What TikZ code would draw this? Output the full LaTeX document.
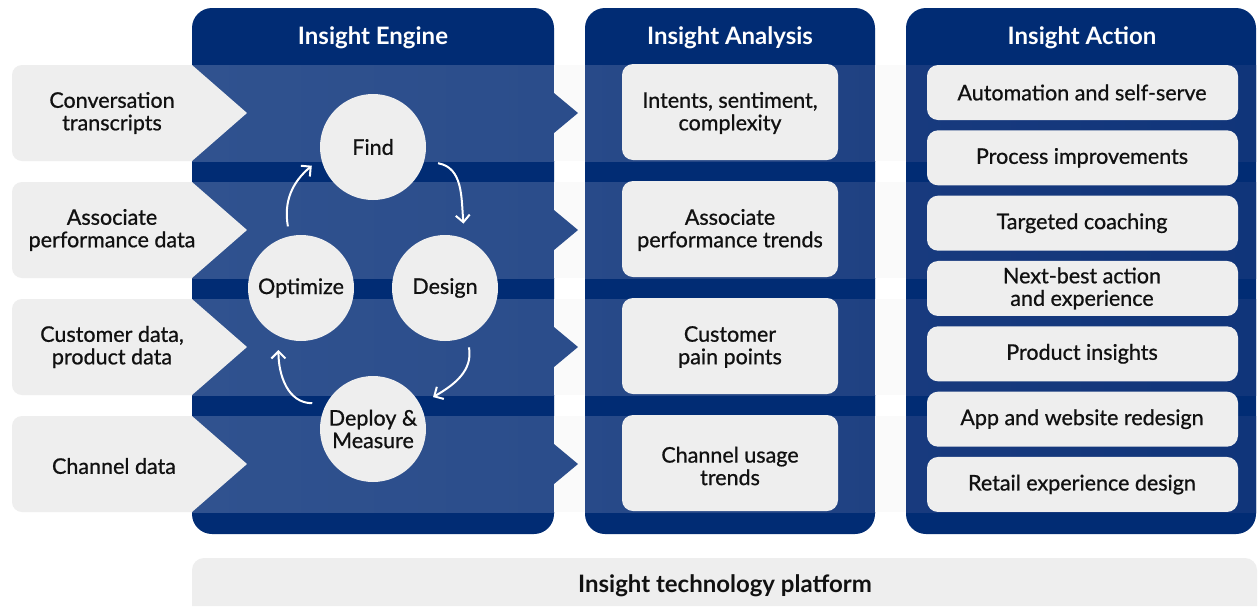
\documentclass[tikz,border=0pt]{standalone}
\usepackage{fontspec}
\setmainfont{Lato}
\newfontfamily\lblfont{Lato}[FakeBold=0.8]
\usetikzlibrary{arrows.meta,calc}
\definecolor{navy}{HTML}{012C74}
\definecolor{cardgray}{HTML}{EEEEEE}
\definecolor{gapw}{HTML}{FAFAFA}
\definecolor{ink}{HTML}{111111}
\definecolor{engA}{HTML}{30528F}
\definecolor{engB}{HTML}{2B4D8B}
\definecolor{anaA}{HTML}{284A89}
\definecolor{anaB}{HTML}{1F4182}
\definecolor{actA}{HTML}{183A7E}
\definecolor{actB}{HTML}{10357A}
\begin{document}
\begin{tikzpicture}[x=1pt,y=1pt,
  hdr/.style={text=white,font=\fontsize{24}{27}\selectfont\bfseries},
  lab/.style={text=ink,align=center,inner sep=0,font=\lblfont\fontsize{21.5}{22.5}\selectfont},
  panelbox/.style={fill=navy,rounded corners=20},
  card/.style={fill=cardgray,rounded corners=11},
  stage/.style={circle,fill=cardgray,minimum size=106,inner sep=0,text=ink,align=center,font=\lblfont\fontsize{21.5}{22.5}\selectfont},
  cyc/.style={draw=white,line width=2,-{Straight Barb[length=7,width=14]}}
]
\useasboundingbox (0,0) rectangle (1259,-606);
\fill[white] (0,0) rectangle (1259,-606);

% panels
\fill[panelbox] (192,-8) rectangle (554,-534);
\fill[panelbox] (585,-8) rectangle (875,-534);
\fill[panelbox] (906,-8) rectangle (1256,-534);

% bands
\foreach \t in {65,182,299,416}{
  \shade[left color=engA,right color=engB] (192,-\t) rectangle (554,-\t-96);
  \shade[left color=anaA,right color=anaB] (585,-\t) rectangle (875,-\t-96);
  \shade[left color=actA,right color=actB] (906,-\t) rectangle (1256,-\t-96);
  \fill[gapw] (554,-\t) rectangle (585,-\t-96);
  \fill[gapw] (875,-\t) rectangle (906,-\t-96);
  \fill[engB] (554,-\t-28) -- (578,-\t-48) -- (554,-\t-68) -- cycle;
  \fill[cardgray] (192,-\t) -- (247,-\t-48) -- (192,-\t-96) -- (22,-\t-96)
     arc[start angle=270,end angle=180,radius=10] -- (12,-\t-10)
     arc[start angle=180,end angle=90,radius=10] -- cycle;
  \fill[card] (622,-\t+1) rectangle (838,-\t-95);
}

% action cards
\foreach \i in {0,...,6}{
  \fill[card] (927,{-(65+65.33*\i)}) rectangle (1238,{-(120+65.33*\i)});
}

% bottom bar
\fill[cardgray] (192,-606) -- (192,-570) arc[start angle=180,end angle=90,radius=12]
  -- (1245,-558) arc[start angle=90,end angle=0,radius=12] -- (1257,-606) -- cycle;

% headers
\node[hdr] (h1) at (373,-38) {Insight Engine};
\node[hdr] (h2) at (730,-38) {Insight Analysis};
\node[hdr] (h3) at (1082,-38) {Insight Action};

% inputs
\node[lab] (in1) at (112,-113) {Conversation\\transcripts};
\node[lab] (in2) at (112,-230) {Associate\\performance data};
\node[lab] (in3) at (112,-347) {Customer data,\\product data};
\node[lab] (in4) at (114,-466) {Channel data};

% analysis
\node[lab] (an1) at (730,-113) {Intents, sentiment,\\complexity};
\node[lab] (an2) at (730,-230) {Associate\\performance trends};
\node[lab] (an3) at (730,-347) {Customer\\pain points};
\node[lab] (an4) at (730,-466) {Channel usage\\trends};

% actions
\node[lab] (ac1) at (1082,{-(92.5+65.33*0)}) {Automation and self-serve};
\node[lab] (ac2) at (1082,{-(92.5+65.33*1)}) {Process improvements};
\node[lab] (ac3) at (1082,{-(92.5+65.33*2)}) {Targeted coaching};
\node[lab] (ac4) at (1082,{-(92.5+65.33*3)}) {Next-best action\\and experience};
\node[lab] (ac5) at (1082,{-(92.5+65.33*4)}) {Product insights};
\node[lab] (ac6) at (1082,{-(92.5+65.33*5)}) {App and website redesign};
\node[lab] (ac7) at (1082,{-(92.5+65.33*6)}) {Retail experience design};

% platform
\node[text=ink,font=\fontsize{24}{27}\selectfont\bfseries] (plat) at (725,-586) {Insight technology platform};

% cycle
\node[stage] (find) at (373,-147) {Find};
\node[stage] (design) at (445,-288) {Design};
\node[stage] (optimize) at (301,-288) {Optimize};
\node[stage] (deploy) at (373,-429) {Deploy \&\\Measure};

\draw[cyc] ($(find.center)+(-14:67)$) to[out=-10,in=95] ($(design.center)+(74:67)$);
\draw[cyc] ($(design.center)+(-68:64)$) to[out=-80,in=30] ($(deploy.center)+(28:68)$);
\draw[cyc] ($(deploy.center)+(157:66)$) to[out=180,in=-90] ($(optimize.center)+(-110:66)$);
\draw[cyc] ($(optimize.center)+(102:63)$) to[out=100,in=-140] ($(find.center)+(-163:64)$);
\end{tikzpicture}
\end{document}
